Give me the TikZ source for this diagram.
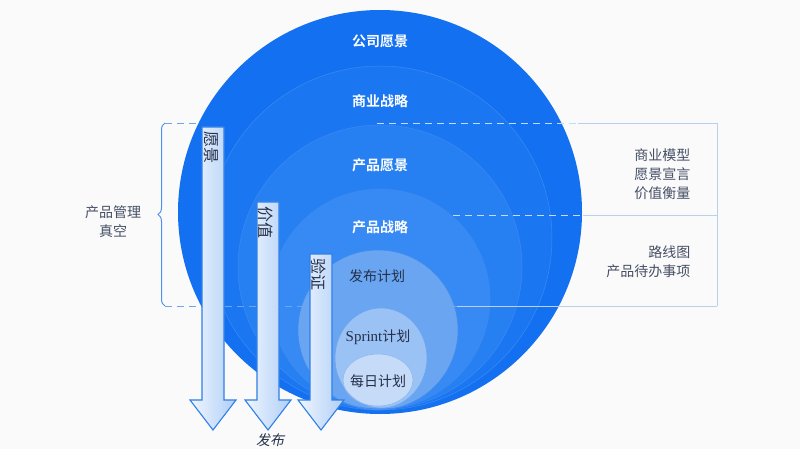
\documentclass[tikz,border=0pt]{standalone}
\usepackage{fontspec}
\setmainfont{Liberation Serif}
\newfontfamily\cjk{Noto Sans CJK SC}
\newfontfamily\cjkbf{Noto Sans CJK SC Bold}
\newfontfamily\cjkit[FakeSlant=0.22]{Noto Sans CJK SC}
\usetikzlibrary{decorations.pathreplacing}

\definecolor{ringA}{HTML}{1370F0}
\definecolor{ringB}{HTML}{1B77F1}
\definecolor{ringC}{HTML}{2780F2}
\definecolor{ringD}{HTML}{378AF3}
\definecolor{ringE}{HTML}{6AA5F2}
\definecolor{ringF}{HTML}{9BC2F5}
\definecolor{ringG}{HTML}{C6DBF7}
\definecolor{edgeblue}{HTML}{2F7FE8}
\definecolor{lineblue}{HTML}{B9D1EE}
\definecolor{darktext}{HTML}{243049}

\tikzset{
  ringlabel/.style={font=\cjkbf\fontsize{14}{16}\selectfont, text=white},
  innerlabel/.style={font=\cjk\fontsize{14}{16}\selectfont, text=darktext},
  sidelabel/.style={font=\cjk\fontsize{14}{19}\selectfont, text=darktext!85, align=right},
  blockarrow/.style={draw=edgeblue, line width=1.1pt, line join=miter,
    left color=white!85!ringF, middle color=white, right color=ringF!80!white},
  arrowlabel/.style={font=\cjk\fontsize{16}{18}\selectfont, text=darktext, rotate=-90, anchor=west},
  guide/.style={draw=lineblue, line width=0.9pt},
  guidedash/.style={draw=edgeblue!70, line width=0.9pt, dash pattern=on 7pt off 5pt}
}

\begin{document}
\begin{tikzpicture}[x=1pt, y=-1pt]
  \useasboundingbox (0,0) rectangle (800,449);
  \fill[white!96!gray] (0,0) rectangle (800,449);

  % bracket and guide lines behind the circles
  \coordinate (braceT) at (165,123);
  \coordinate (braceB) at (165,306);
  \draw[edgeblue!85, line width=1pt, decorate, decoration={brace, amplitude=7pt}]
    (braceB) -- (braceT);
  \draw[guidedash] (braceT) -- (205,123);
  \node[sidelabel, align=center] (vacuum) at (113,222) {产品管理\\真空};

  % nested rings, all touching at the bottom
  \fill[fill=ringA] (380,212) circle[radius=202pt];
  \fill[fill=ringB] (380,238) circle[radius=172pt];
  \fill[fill=ringC] (380,267) circle[radius=142pt];
  \fill[fill=ringD] (380,299) circle[radius=110pt];
  \fill[fill=ringE] (378,330) circle[radius=80pt];
  \fill[fill=ringF] (381,358) ellipse[x radius=46pt, y radius=50pt];
  \fill[fill=ringG] (378,380) ellipse[x radius=35pt, y radius=26pt];
  \draw[ringA!82!white, line width=0.5pt] (380,238) circle[radius=172pt];
  \draw[ringA!82!white, line width=0.5pt] (380,267) circle[radius=142pt];
  \draw[ringA!82!white, line width=0.5pt] (380,299) circle[radius=110pt];
  \draw[edgeblue!90, line width=0.6pt] (378,330) circle[radius=80pt];
  \draw[edgeblue!70, line width=0.6pt] (381,358) ellipse[x radius=46pt, y radius=50pt];
  \draw[edgeblue!55, line width=0.6pt] (378,380) ellipse[x radius=35pt, y radius=26pt];

  \node[ringlabel] (corpvision) at (380,41) {公司愿景};
  \node[ringlabel] (bizstrategy) at (380,101) {商业战略};
  \node[ringlabel] (prodvision) at (380,165) {产品愿景};
  \node[ringlabel] (prodstrategy) at (380,227) {产品战略};
  \node[innerlabel] (release) at (377,276) {发布计划};
  \node[innerlabel] (sprint) at (378,337) {{\rmfamily\fontsize{15}{16}\selectfont Sprint}计划};
  \node[innerlabel] (daily) at (378,381) {每日计划};

  % guide lines and the right-hand box
  \draw[guidedash, draw=white!75!ringA] (377,123) -- (578,123);
  \draw[guide] (578,123) -- (717,123) -- (717,306);
  \draw[guidedash, draw=white!75!ringA] (453,215) -- (583,215);
  \draw[guide] (583,215) -- (717,215);
  \draw[guidedash] (braceB) -- (457,306);
  \draw[guide] (457,306) -- (717,306);
  \node[sidelabel, anchor=east] (vision) at (694,174) {商业模型\\愿景宣言\\价值衡量};
  \node[sidelabel, anchor=east] (backlog) at (694,262) {路线图\\产品待办事项};

  % three block arrows down to the release
  \foreach \cx/\ty/\lab in {213/127/愿景, 268/202/价值, 321/254/验证} {
    \draw[blockarrow] (\cx-11,\ty) -- (\cx+11,\ty) -- (\cx+11,400) -- (\cx+23,400)
      -- (\cx,430) -- (\cx-23,400) -- (\cx-11,400) -- cycle;
    \node[arrowlabel] at (\cx-2,\ty+1) {\lab};
  }
  \node[font=\cjkit\fontsize{14}{16}\selectfont, text=darktext] (ship) at (270,440) {发布};
\end{tikzpicture}
\end{document}
